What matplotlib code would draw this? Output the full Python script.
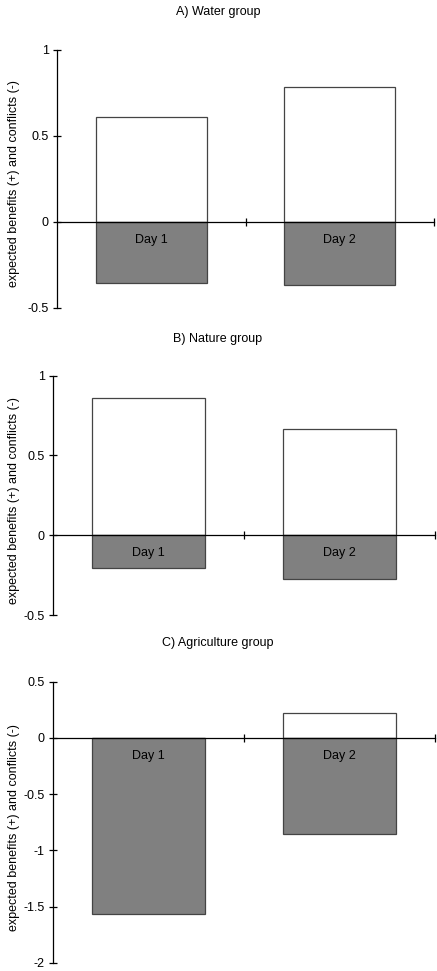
import matplotlib
matplotlib.use("Agg")
import matplotlib.pyplot as plt

plt.rcParams['font.family'] = ['Liberation Sans', 'DejaVu Sans']

days = ["Day 1", "Day 2"]
groups = ["A) Water group", "B) Nature group", "C) Agriculture group"]
benefits = {
    "A) Water group": [0.612, 0.785],
    "B) Nature group": [0.863, 0.665],
    "C) Agriculture group": [0.0, 0.225],
}
conflicts = {
    "A) Water group": [-0.353, -0.364],
    "B) Nature group": [-0.205, -0.276],
    "C) Agriculture group": [-1.569, -0.857],
}
ylims = {
    "A) Water group": (-0.5, 1.0),
    "B) Nature group": (-0.5, 1.0),
    "C) Agriculture group": (-2.0, 0.5),
}
yticks = {
    "A) Water group": [-0.5, 0, 0.5, 1],
    "B) Nature group": [-0.5, 0, 0.5, 1],
    "C) Agriculture group": [-2, -1.5, -1, -0.5, 0, 0.5],
}
ylabel = "expected benefits (+) and conflicts (-)"

W, H = 437, 971
fig = plt.figure(figsize=(W / 100, H / 100), dpi=100)

# axes rectangles in pixels: left, right, y-pixel of ymax, y-pixel of ymin
rects = [
    (57, 434, 50, 308),
    (53, 435, 375.7, 615),
    (53, 435, 681.7, 962.7),
]
title_y = [12, 339, 643]

fs = 9
edge = "#444444"
for g, (l, r, yt, yb), ty in zip(groups, rects, title_y):
    ax = fig.add_axes([l / W, 1 - yb / H, (r - l) / W, (yb - yt) / H])
    x = [0.5, 1.5]
    ax.bar(x, benefits[g], width=0.59, color="white", edgecolor=edge, linewidth=0.9, zorder=2)
    ax.bar(x, conflicts[g], width=0.59, color="#808080", edgecolor=edge, linewidth=0.9, zorder=2)
    for xi, d in zip(x, days):
        ax.annotate(d, (xi, 0), xytext=(0, -18), textcoords="offset pixels",
                    ha="center", va="center", fontsize=fs, zorder=3)
    ax.set_xlim(0, 2)
    ax.set_ylim(*ylims[g])
    ax.set_yticks(yticks[g])
    ax.set_yticklabels([f"{v:g}" for v in yticks[g]])
    ax.set_xticks([1, 2])
    ax.set_xticklabels([])
    for s in ["top", "right"]:
        ax.spines[s].set_visible(False)
    ax.spines["bottom"].set_position(("data", 0))
    ax.spines["bottom"].set_zorder(4)
    ax.spines["left"].set_linewidth(0.9)
    ax.spines["bottom"].set_linewidth(0.9)
    ax.tick_params(axis="both", direction="inout", length=6, width=0.9, labelsize=fs, pad=3)
    ax.patch.set_alpha(0)
    fig.text(14 / W, 1 - ((yt + yb) / 2 + 5) / H, ylabel, rotation=90,
             ha="center", va="center", fontsize=fs)
    fig.text(218 / W, 1 - ty / H, g, ha="center", va="center", fontsize=fs)

fig.savefig("out.png", dpi=100)
